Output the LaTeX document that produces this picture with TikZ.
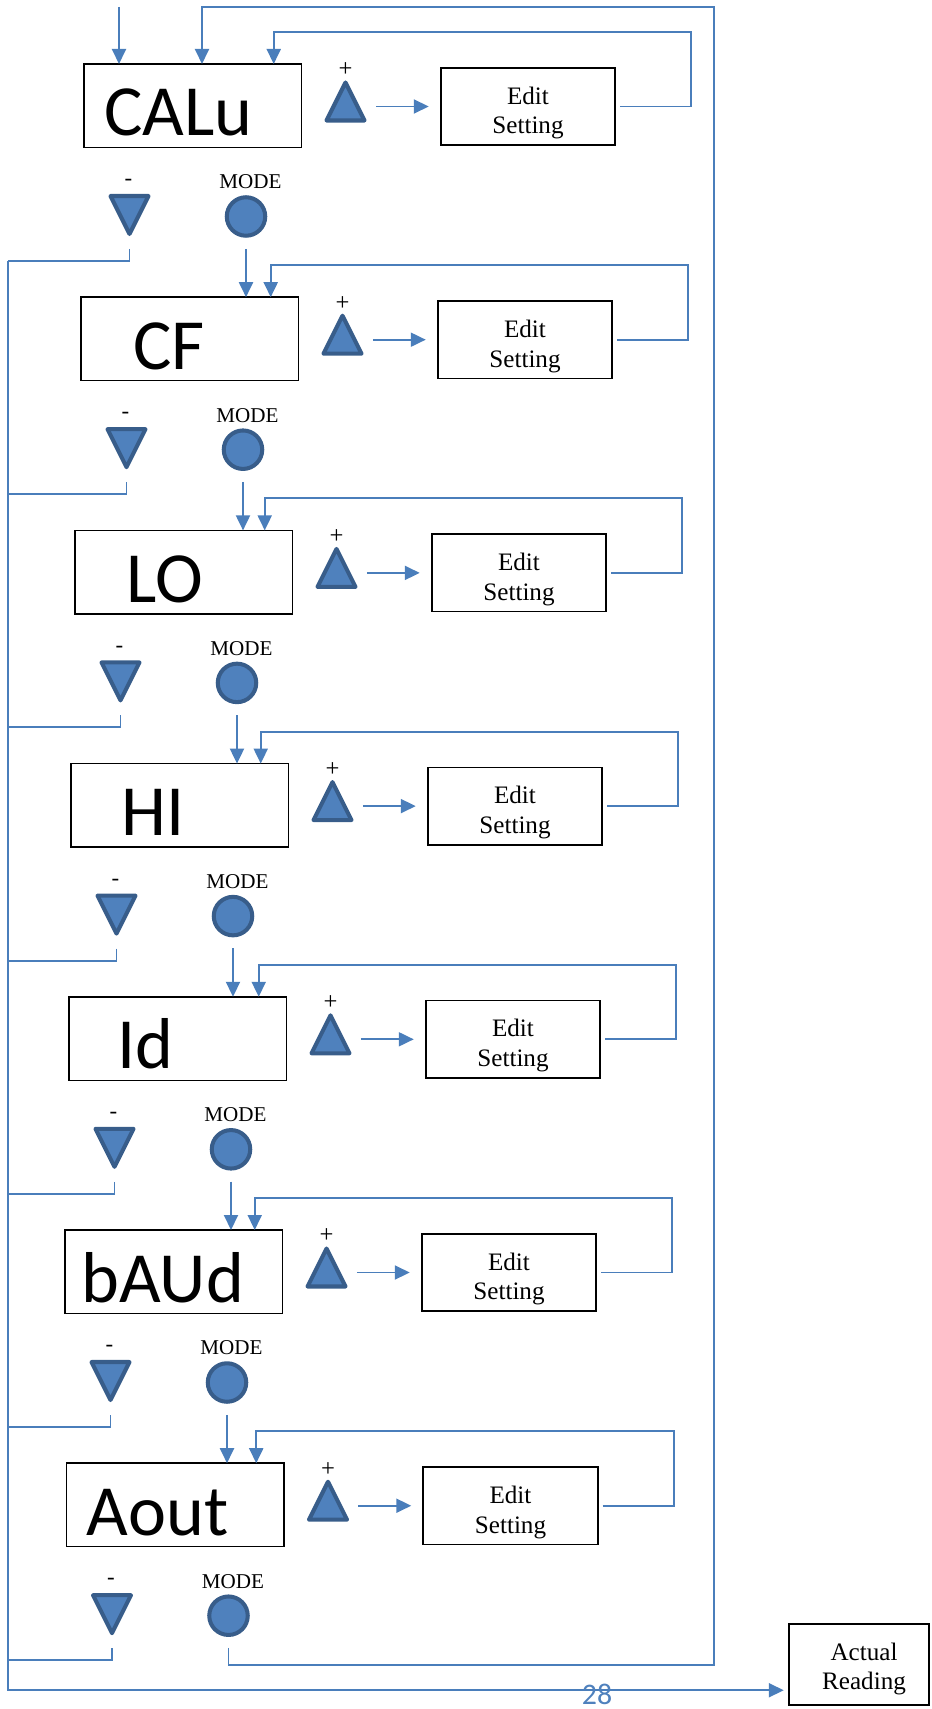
\documentclass[tikz,border=0pt]{standalone}
\usepackage{fontspec}
\setmainfont{Liberation Serif}
\newfontfamily\calibrifont{Carlito}
\usepackage{xcolor}
\usepackage{tikz}
\usetikzlibrary{arrows.meta,positioning,calc}

\definecolor{linkblue}{HTML}{4A7EBB}
\definecolor{keyfill}{HTML}{4F81BD}
\definecolor{keyline}{HTML}{385D8A}

\begin{document}
\begin{tikzpicture}[
    x=0.02cm, y=-0.02cm,
    >={Triangle[length=0.3cm,width=0.28cm]},
    panel/.style={rectangle, draw, line width=0.9pt, minimum width=4.35cm, minimum height=1.67cm, inner sep=0pt, outer sep=0pt, anchor=north west},
    paneltext/.style={anchor=base west, inner sep=0pt, font=\calibrifont\fontsize{41}{45}\selectfont},
    editbox/.style={rectangle, draw, line width=0.9pt, minimum width=3.49cm, minimum height=1.55cm, inner sep=0pt, outer sep=0pt},
    edittext/.style={align=center, inner sep=0pt, font=\fontsize{14.3}{17}\selectfont},
    keyspot/.style={rectangle, minimum size=0.76cm, inner sep=0pt, outer sep=0pt},
    keyshape/.style={draw=keyline, fill=keyfill, line width=2.3pt, line join=round},
    modekey/.style={circle, keyshape, minimum size=0.77cm, inner sep=0pt},
    keytext/.style={inner sep=0pt, font=\fontsize{12}{12}\selectfont},
    link/.style={draw=linkblue, line width=1.1pt}
]
\useasboundingbox (0,0) rectangle (931,1709);

\coordinate (rail) at (8,0);
\coordinate (ne) at (714,7);
\coordinate (in) at (119,7);

\foreach \i/\dx/\lbl/\tx in {1/0/CALu/20, 2/-3/CF/52, 3/-9/LO/51, 4/-13/HI/50, 5/-15/Id/48, 6/-19/bAUd/16, 7/-17.5/Aout/20}{
  \pgfmathsetmacro\by{64+233.2*(\i-1)}
  \pgfmathsetmacro\bx{84+\dx}
  \node[panel] (b\i) at (\bx,\by) {};
  \node[paneltext] (t\i) at ($(b\i.north west)+(\tx,72)$) {\lbl};
  \node[keyspot] (u\i) at (\bx+261.5,\by+37.5) {};
  \path[keyshape] (u\i.north) -- (u\i.south west) -- (u\i.south east) -- cycle;
  \node[keytext, font=\fontsize{14}{14}\selectfont] (p\i) at (\bx+261.5,\by+6) {+};
  \node[editbox] (e\i) at (\bx+444,\by+42.5) {};
  \node[edittext] (et\i) at (\bx+444,\by+49) {Edit\\Setting};
  \node[keyspot] (d\i) at (\bx+45.5,\by+151) {};
  \path[keyshape] (d\i.south) -- (d\i.north west) -- (d\i.north east) -- cycle;
  \node[keytext, font=\fontsize{13}{13}\selectfont] (n\i) at (\bx+44.5,\by+118.5) {-};
  \node[modekey] (m\i) at (\bx+162,\by+152.5) {};
  \node[keytext] (ml\i) at (\bx+166.5,\by+118) {MODE};

  \draw[link,->,shorten <=0.23cm,shorten >=0.24cm] (u\i.east |- e\i.west) -- (e\i.west);
  \draw[link,->] ($(e\i.east)+(5,0)$) -- ++(71,0) |- ($(b\i.north)+(81,-32)$) -- ($(b\i.north)+(81,0)$);
  \draw[link] ($(d\i.south)+(0,15)$) -- ++(0,12) coordinate (c\i) -- (rail |- c\i);
}

\foreach \i [count=\j from 2] in {1,...,6}
  \draw[link,->] ($(m\i.south)+(0,11)$) -- (m\i |- b\j.north);

\draw[link,->] ($(m7.south)+(0,11)$) -- ++(0,17) -| (ne) -| ($(b1.north west)+(118,0)$);
\draw[link,->] (in) -- (in |- b1.north);

\node[editbox, minimum width=2.81cm, minimum height=1.63cm] (ar) at (859,1664.5) {};
\node[edittext] (art) at (864,1669) {Actual\\Reading};
\coordinate (low) at ($(ar.south west)+(-5,-15)$);
\draw[link,->] (rail |- c1) -- (rail |- low) -- (low);

\node[inner sep=0pt, text=keyfill, font=\calibrifont\fontsize{17}{17}\selectfont] (pg) at (597,1694.5) {28};

\end{tikzpicture}
\end{document}
